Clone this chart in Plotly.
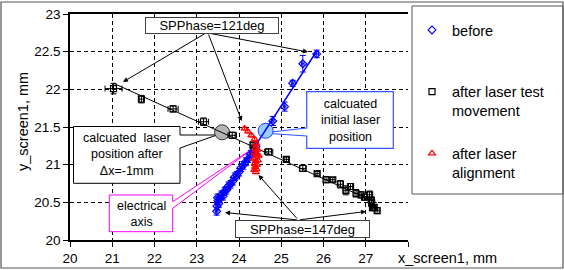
import plotly.graph_objects as go
import numpy as np

# ---------------- data ----------------
before_x = [23.47, 23.48, 23.50, 23.49, 23.52, 23.55, 23.58, 23.62, 23.66, 23.70, 23.75, 23.80,
            23.85, 23.90, 23.95, 24.00, 24.05, 24.10, 24.16, 24.22, 24.28, 24.34, 24.40,
            24.80, 25.08, 25.27, 25.51, 25.84]
before_y = [20.38, 20.45, 20.52, 20.56, 20.48, 20.55, 20.60, 20.58, 20.65, 20.66, 20.72, 20.74,
            20.78, 20.84, 20.86, 20.90, 20.96, 20.99, 21.04, 21.08, 21.14, 21.18, 21.24,
            21.58, 21.77, 22.08, 22.34, 22.47]
before_ex = [0.03] * 23 + [0.03, 0.03, 0.03, 0.03, 0.04]
before_ey = [0.05] * 23 + [0.06, 0.06, 0.04, 0.11, 0.05]

test_x = [21.03, 21.69, 22.44, 23.16, 23.84, 24.33, 24.70, 25.12, 25.51, 25.85, 26.06, 26.22,
          26.40, 26.53, 26.64, 26.77, 26.89, 26.97, 27.09, 27.13, 27.14, 27.16, 27.20, 27.27]
test_y = [22.01, 21.87, 21.74, 21.57, 21.39, 21.26, 21.17, 21.07, 20.95, 20.88, 20.80, 20.80,
          20.74, 20.66, 20.71, 20.62, 20.60, 20.57, 20.60, 20.53, 20.49, 20.43, 20.43, 20.39]
test_ex = [0.20, 0.05, 0.12, 0.12, 0.10, 0.05, 0.10, 0.05, 0.08, 0.05, 0.05, 0.05,
           0.06, 0.05, 0.05, 0.05, 0.05, 0.05, 0.05, 0.05, 0.05, 0.05, 0.05, 0.05]
test_ey = [0.07, 0.05, 0.04, 0.05, 0.04, 0.04, 0.04, 0.03, 0.04, 0.03, 0.04, 0.03,
           0.05, 0.06, 0.04, 0.05, 0.04, 0.04, 0.05, 0.04, 0.04, 0.04, 0.04, 0.04]

align_x = [24.13, 24.21, 24.29, 24.37, 24.41, 24.38, 24.44, 24.36, 24.42, 24.47, 24.35, 24.40,
           24.45, 24.37, 24.43, 24.38, 24.41, 24.36, 24.40]
align_y = [21.48, 21.44, 21.39, 21.34, 21.28, 21.22, 21.20, 21.16, 21.14, 21.12, 21.08, 21.05,
           21.06, 21.01, 21.00, 20.97, 20.94, 20.93, 20.90]

calc_initial = (24.63, 21.45)
calc_after = (23.60, 21.43)

x_ticks = [20, 21, 22, 23, 24, 25, 26, 27, 28]
x_ticktext = ["20", "21", "22", "23", "24", "25", "26", "27", ""]
y_ticks = [20, 20.5, 21, 21.5, 22, 22.5, 23]
y_ticktext = ["20", "20.5", "21", "21.5", "22", "22.5", "23"]

FONT = "Liberation Sans, Arial, sans-serif"

# pixel -> data / paper helpers for layout decorations
def X(px): return 20 + (px - 70) * 8 / 338
def Y(py): return 23 - (py - 14) * 3 / 226
def XP(px): return (px - 70) / 338
def YP(py): return (240 - py) / 226

fig = go.Figure()

# calculated circles
fig.add_trace(go.Scatter(x=[calc_initial[0]], y=[calc_initial[1]], mode="markers",
                         marker=dict(size=15, color="#99ccff", line=dict(color="#1f3fff", width=1)),
                         showlegend=False, hoverinfo="skip"))
fig.add_trace(go.Scatter(x=[calc_after[0]], y=[calc_after[1]], mode="markers",
                         marker=dict(size=15, color="#b4b4b4", line=dict(color="#333333", width=1)),
                         showlegend=False, hoverinfo="skip"))

# fit lines
def fitline(xs, ys):
    k, b = np.polyfit(xs, ys, 1)
    xx = np.array([min(xs), max(xs)])
    return xx, k * xx + b

bx, by = fitline(before_x, before_y)
fig.add_trace(go.Scatter(x=bx, y=by, mode="lines", line=dict(color="#0000ff", width=1.5),
                         showlegend=False, hoverinfo="skip"))
tx, ty = fitline(test_x, test_y)
fig.add_trace(go.Scatter(x=tx, y=ty, mode="lines", line=dict(color="black", width=1),
                         showlegend=False, hoverinfo="skip"))

fig.add_trace(go.Scatter(
    x=before_x, y=before_y, mode="markers", name="before<br>&nbsp;", legendgroup="a",
    marker=dict(symbol="diamond-open", size=6, color="#0000ff", line=dict(width=1.2)),
    error_x=dict(type="data", array=before_ex, color="#0000ff", thickness=1, width=2),
    error_y=dict(type="data", array=before_ey, color="#0000ff", thickness=1, width=3)))
fig.add_trace(go.Scatter(
    x=test_x, y=test_y, mode="markers", name="after laser test<br>movement", legendgroup="b",
    marker=dict(symbol="square-open", size=6, color="black", line=dict(width=1.2)),
    error_x=dict(type="data", array=test_ex, color="black", thickness=1, width=3),
    error_y=dict(type="data", array=test_ey, color="black", thickness=1, width=3)))
fig.add_trace(go.Scatter(
    x=align_x, y=align_y, mode="markers", name="after laser<br>alignment", legendgroup="c",
    marker=dict(symbol="triangle-up-open", size=6, color="#ff0000", line=dict(width=1.2)),
    error_y=dict(type="data", array=[0.02] * len(align_x), color="#ff0000", thickness=1, width=2)))

def pth(pts):
    return "M " + " L ".join(f"{X(a)},{Y(b)}" for a, b in pts) + " Z"

shapes = [
    # blue callout
    dict(type="path", xref="x", yref="y", layer="between",
         path=pth([(306.7, 91.7), (393.3, 91.7), (393.3, 148.3), (306.7, 148.3), (306.7, 136),
                   (262, 133), (306.7, 128)]),
         line=dict(color="#3355ff", width=1.2), fillcolor="white"),
    # gray callout
    dict(type="path", xref="x", yref="y", layer="between",
         path=pth([(73.5, 126.5), (180, 126.5), (180, 135), (217, 135), (180, 148), (180, 183.3),
                   (73.5, 183.3)]),
         line=dict(color="black", width=1), fillcolor="white"),
    # magenta callout
    dict(type="path", xref="x", yref="y", layer="between",
         path=pth([(109.3, 195), (172.7, 195), (172.7, 201.7), (253.5, 148), (172.7, 208.3),
                   (172.7, 231.7), (109.3, 231.7)]),
         line=dict(color="#ff00ff", width=1), fillcolor="white"),
    # legend box
    dict(type="rect", xref="paper", yref="paper", x0=XP(412), x1=XP(563), y0=YP(194), y1=YP(6),
         line=dict(color="#555555", width=1), fillcolor="rgba(0,0,0,0)"),
    # outer frame
    dict(type="rect", xref="paper", yref="paper", x0=XP(1), x1=XP(563), y0=YP(268), y1=YP(2),
         line=dict(color="#555555", width=1.2), fillcolor="rgba(0,0,0,0)"),
]

ann = []
def arrow(tx_, ty_, ox, oy):
    ann.append(dict(x=X(tx_), y=Y(ty_), ax=X(ox), ay=Y(oy), xref="x", yref="y", axref="x", ayref="y",
                    text="", showarrow=True, arrowhead=2, arrowsize=1, arrowwidth=1, arrowcolor="black"))

arrow(123, 82, 206, 33)
arrow(308, 52, 208, 33)
arrow(241.7, 121, 208, 33)
arrow(258.5, 175, 298.3, 220)
arrow(225, 212.5, 298.3, 220)
arrow(366, 211.5, 298.3, 220)

def box(text, cx, cy, w, h, col):
    ann.append(dict(x=X(cx), y=Y(cy), xref="x", yref="y", text=text, showarrow=False,
                    xanchor="center", yanchor="middle",
                    font=dict(family=FONT, size=13, color="black"), bgcolor="white",
                    bordercolor=col, borderwidth=1, borderpad=0, width=w, height=h))

box("SPPhase=121deg", 212, 25.5, 132, 15, "#404040")
box("SPPhase=147deg", 302.5, 229, 133, 16, "#404040")

def txt(text, cx, cy):
    ann.append(dict(x=X(cx), y=Y(cy), xref="x", yref="y", text=text, showarrow=False,
                    xanchor="center", yanchor="middle",
                    font=dict(family=FONT, size=12.5, color="black"), align="center"))

txt("calcuated<br>initial laser<br>position", 350, 120)
txt("calcuated  laser<br>position after<br>Δx=-1mm", 126.7, 154.5)
txt("electrical<br>axis", 141, 213.5)

ann.append(dict(x=XP(447), y=YP(258), xref="paper", yref="paper", text="x_screen1, mm",
                xanchor="center", yanchor="middle",
                showarrow=False, font=dict(family=FONT, size=14.5, color="black")))
ann.append(dict(x=XP(23), y=YP(122), xref="paper", yref="paper", text="y_screen1, mm",
                xanchor="center", yanchor="middle",
                textangle=-90, showarrow=False, font=dict(family=FONT, size=14.5, color="black")))

fig.update_layout(
    template="none",
    width=564, height=270,
    margin=dict(l=70, r=156, t=14, b=30, autoexpand=False),
    paper_bgcolor="white", plot_bgcolor="white",
    font=dict(family=FONT, size=13.5, color="black"),
    shapes=shapes, annotations=ann,
    legend=dict(x=XP(412), y=YP(14), xanchor="left", yanchor="top", traceorder="grouped",
                tracegroupgap=21, valign="top", font=dict(family=FONT, size=14.5),
                bgcolor="rgba(0,0,0,0)", borderwidth=0, maxheight=250),
    xaxis=dict(range=[20, 28], tickvals=x_ticks, ticktext=x_ticktext, showgrid=True,
               gridcolor="black", griddash="4px,3px", gridwidth=1, showline=True, linecolor="black",
               linewidth=1.5, mirror=True, ticks="outside", ticklen=5, tickcolor="black",
               zeroline=False, automargin=False),
    yaxis=dict(range=[20, 23], tickvals=y_ticks, ticktext=y_ticktext, showgrid=True,
               gridcolor="black", griddash="4px,3px",
               gridwidth=1, showline=True, linecolor="black", linewidth=1.5, ticks="outside",
               ticklen=5, tickcolor="black", zeroline=False, automargin=False),
)

fig.write_html("out.html", config={"displayModeBar": False},
               post_script="document.body.style.margin='0';document.body.style.overflow='hidden';")
